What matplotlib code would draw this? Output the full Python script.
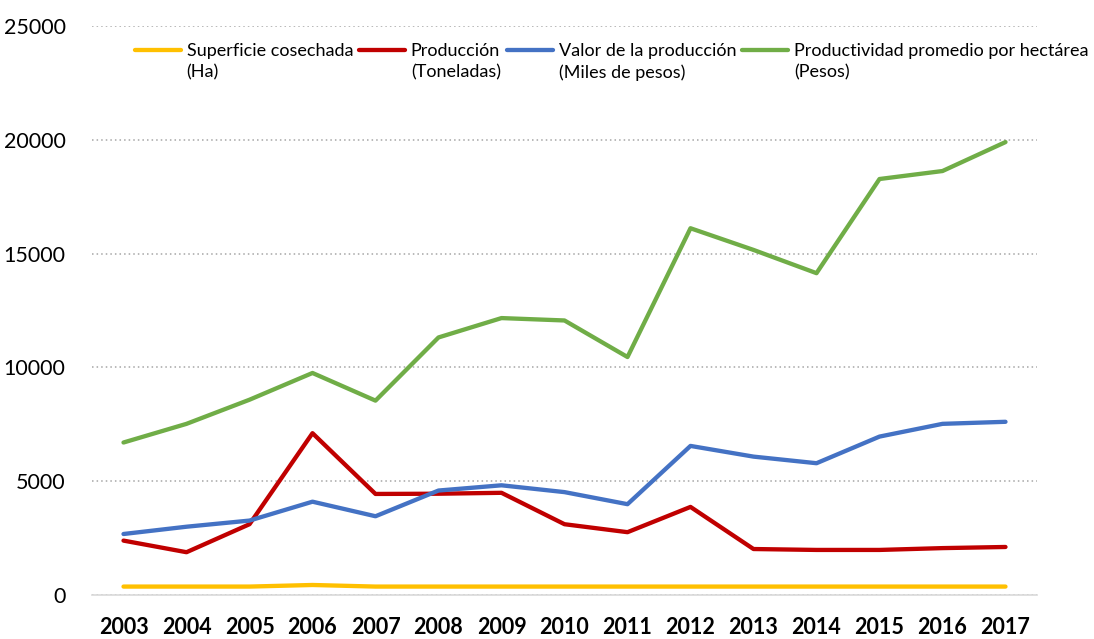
import numpy as np
import matplotlib
matplotlib.use("Agg")
import matplotlib.pyplot as plt
from matplotlib.legend_handler import HandlerLine2D

plt.rcParams['font.family'] = ['Lato', 'DejaVu Sans']

years = ['2003', '2004', '2005', '2006', '2007', '2008', '2009', '2010',
         '2011', '2012', '2013', '2014', '2015', '2016', '2017']

superficie = [370, 370, 370, 440, 370, 370, 370, 370, 370, 370, 370, 370, 370, 370, 370]
produccion = [2390, 1880, 3110, 7110, 4440, 4450, 4490, 3110, 2760, 3870, 2020, 1980, 1980, 2060, 2110]
valor = [2680, 3000, 3270, 4100, 3460, 4590, 4820, 4520, 3990, 6550, 6080, 5790, 6960, 7520, 7610]
productividad = [6700, 7520, 8580, 9755, 8540, 11316, 12167, 12062, 10456, 16114, 15162, 14140, 18277, 18628, 19900]

labels = ['Superficie cosechada\n(Ha)', 'Producción\n(Toneladas)',
          'Valor de la producción\n(Miles de pesos)',
          'Productividad promedio por hectárea\n(Pesos)']
colors = ['#FFC000', '#C00000', '#4472C4', '#70AD47']
series = [superficie, produccion, valor, productividad]

LINESPACING = 1.4


class RaisedLine(HandlerLine2D):
    # put the legend line next to the first line of a two-line label
    def create_artists(self, legend, orig_handle, xdescent, ydescent,
                       width, height, fontsize, trans):
        arts = super().create_artists(legend, orig_handle, xdescent, ydescent,
                                      width, height, fontsize, trans)
        for a in arts:
            a.set_ydata(np.asarray(a.get_ydata()) + LINESPACING / 2 * fontsize)
        return arts


fig = plt.figure(figsize=(10.94, 6.39), dpi=100)
ax = fig.add_axes([92 / 1094, 44 / 639, 945 / 1094, 569 / 639])

x = np.arange(len(years))
lines = []
for vals, c, lab in zip(series, colors, labels):
    ln, = ax.plot(x, vals, color=c, lw=3.1, label=lab,
                  solid_joinstyle='round', solid_capstyle='round')
    lines.append(ln)

ax.set_xlim(-0.5, len(years) - 0.5)
ax.set_ylim(0, 25000)
ax.set_yticks(np.arange(0, 25001, 5000))
ax.set_xticks(x)
ax.set_xticklabels(years, fontsize=15.5, fontweight='bold')
ax.tick_params(axis='y', labelsize=15.5, length=0, pad=19)
ax.tick_params(axis='x', length=0, pad=16)

ax.yaxis.grid(True, linestyle=(0, (1, 2)), color='#A6A6A6', lw=1.1)
ax.set_axisbelow(True)
for s in ['top', 'right', 'left']:
    ax.spines[s].set_visible(False)
ax.spines['bottom'].set_color('#D9D9D9')
ax.spines['bottom'].set_linewidth(1.2)

leg = ax.legend(handles=lines, loc='upper center', bbox_to_anchor=(0.55, 0.97),
                ncol=4, frameon=False, fontsize=13, handlelength=2.55,
                handletextpad=0.3, columnspacing=0.35, borderaxespad=0, borderpad=0,
                handler_map={l: RaisedLine() for l in lines})
for t in leg.get_texts():
    t.set_linespacing(LINESPACING)

fig.savefig('out.png', dpi=100, facecolor='white')
